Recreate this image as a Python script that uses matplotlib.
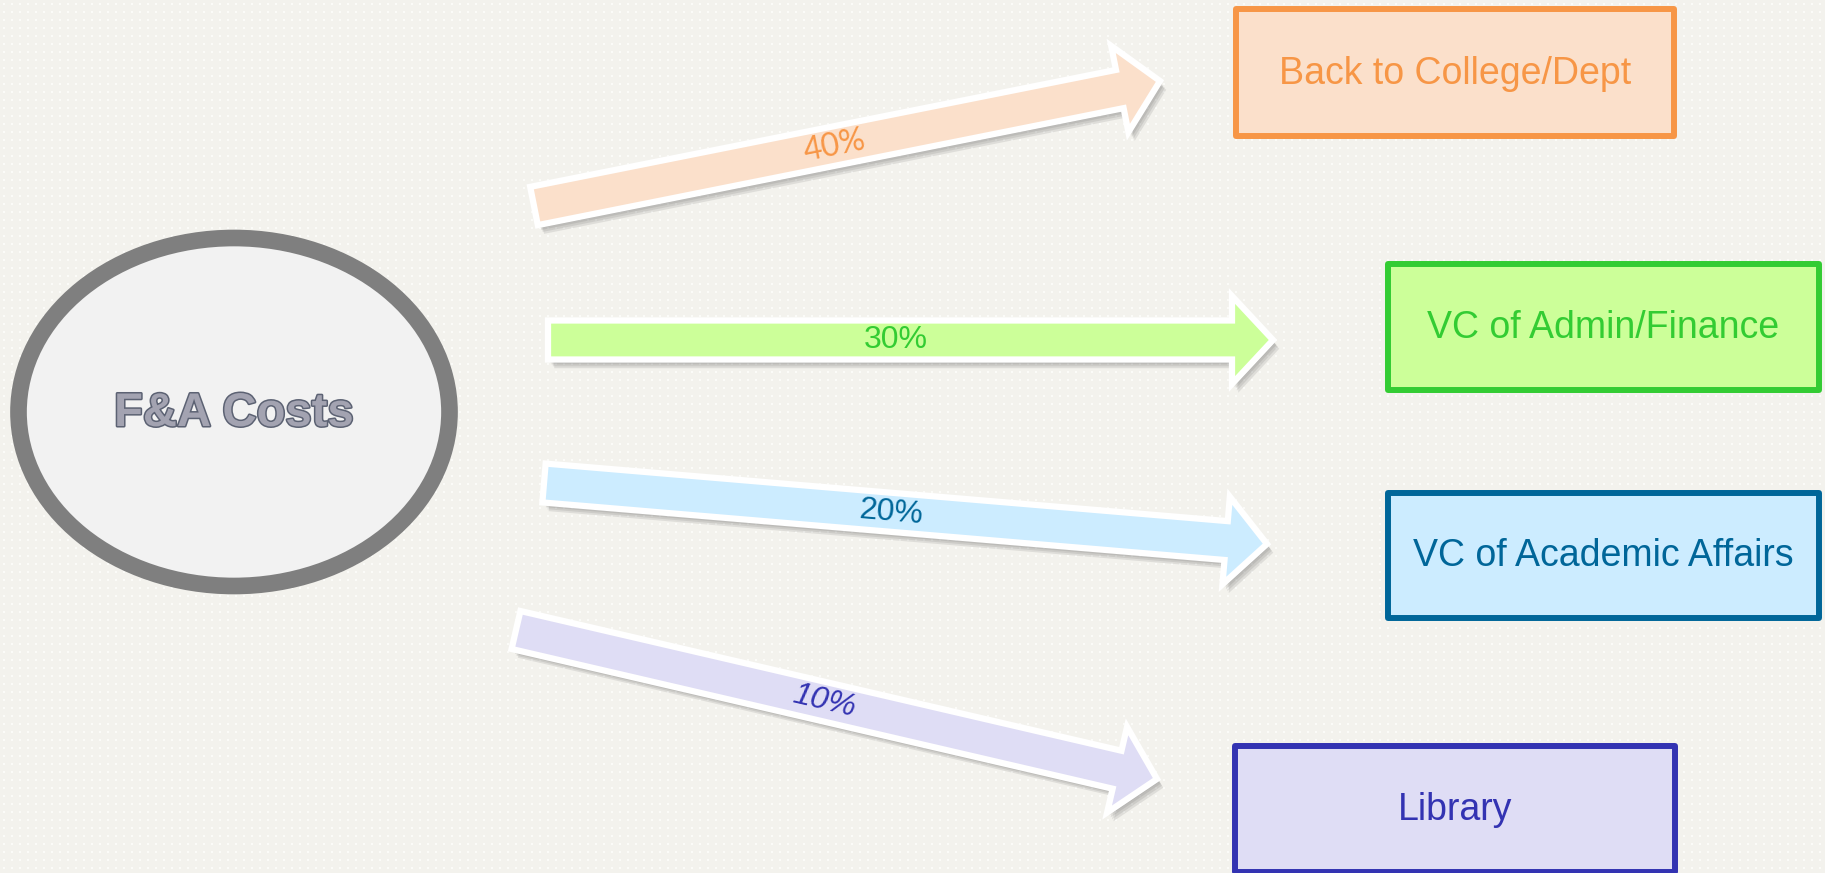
## -- F&A cost distribution diagram -- ##
import matplotlib.pyplot as plt
from matplotlib import patches
import matplotlib.patheffects as pe
import numpy as np

# --- data ---
source = 'F&A Costs'
destinations = ['Back to College/Dept', 'VC of Admin/Finance',
                'VC of Academic Affairs', 'Library']
shares = [40, 30, 20, 10]

# --- styles ---
edge_colors = ['#F79646', '#33CC33', '#006699', '#3333B2']
fill_colors = ['#FBE0CB', '#CCFF99', '#CCECFF', '#DFDDF5']
label_family = ['Lato', 'Liberation Sans', 'Liberation Sans', 'Liberation Sans']
label_style = ['normal', 'normal', 'normal', 'italic']

# --- layout, in pixels (y goes down) ---
W, H = 1825, 873
arrow_tails = [(534, 206), (548, 340), (544, 483), (516, 630)]
arrow_tips = [(1160, 81), (1273, 340), (1267, 544), (1157, 779)]
box_xy = [(1236, 9), (1388, 264), (1388, 493), (1235, 746)]
box_wh = [(438, 127), (431, 126), (431, 125), (440, 126)]

fig = plt.figure(figsize=(W / 100, H / 100), dpi=100)
ax = fig.add_axes([0, 0, 1, 1])
ax.set_xlim(0, W)
ax.set_ylim(H, 0)
ax.axis('off')

# dotted paper background
bg = np.ones((H, W, 3)) * np.array([243, 242, 237]) / 255
for oy in (0, 1):
    for ox in (0, 1):
        bg[3 + oy::8, 3 + ox::8] = np.array([251, 251, 248]) / 255
ax.imshow(bg, extent=(0, W, H, 0), interpolation='nearest', zorder=0)

# source ellipse
ax.add_patch(patches.Ellipse((234, 412), 431, 348, facecolor='#F2F2F2',
                             edgecolor='#7F7F7F', lw=12, zorder=2))
ax.text(234, 414, source, ha='center', va='center', fontsize=34,
        fontweight='bold', family='Liberation Sans', color='#A3A3B1', zorder=3,
        path_effects=[pe.withStroke(linewidth=2.2, foreground='#5C6273')])

# arrows with share labels, soft drop shadow built from a few offset layers
shadow = [pe.SimplePatchShadow(offset=(o, -1.4 * o), shadow_rgbFace='#555555', alpha=0.13)
          for o in (4.5, 3.5, 2.5, 1.5)] + [pe.Normal()]
for i, s in enumerate(shares):
    (x0, y0), (x1, y1) = arrow_tails[i], arrow_tips[i]
    dx, dy = x1 - x0, y1 - y0
    arr = patches.FancyArrow(x0, y0, dx, dy, width=39, head_width=88,
                             head_length=41, length_includes_head=True,
                             facecolor=fill_colors[i], edgecolor='white',
                             lw=4.5, joinstyle='miter', zorder=2)
    arr.set_path_effects(shadow)
    ax.add_patch(arr)
    ang = -np.degrees(np.arctan2(dy, dx))
    ax.text(x0 + 0.48 * dx, y0 + 0.48 * dy, f'{s}%', ha='center', va='center',
            rotation=ang, rotation_mode='anchor', fontsize=23,
            family=label_family[i], style=label_style[i],
            color=edge_colors[i], zorder=3)

# destination boxes
for i, name in enumerate(destinations):
    (bx, by), (bw, bh) = box_xy[i], box_wh[i]
    ax.add_patch(patches.Rectangle((bx, by), bw, bh, facecolor=fill_colors[i],
                                   edgecolor=edge_colors[i], lw=4.3,
                                   joinstyle='round', zorder=2))
    ax.text(bx + bw / 2, by + bh / 2 + 1, name, ha='center', va='center',
            fontsize=27, family='Liberation Sans', color=edge_colors[i], zorder=3)

fig.savefig('out.png', dpi=100)
